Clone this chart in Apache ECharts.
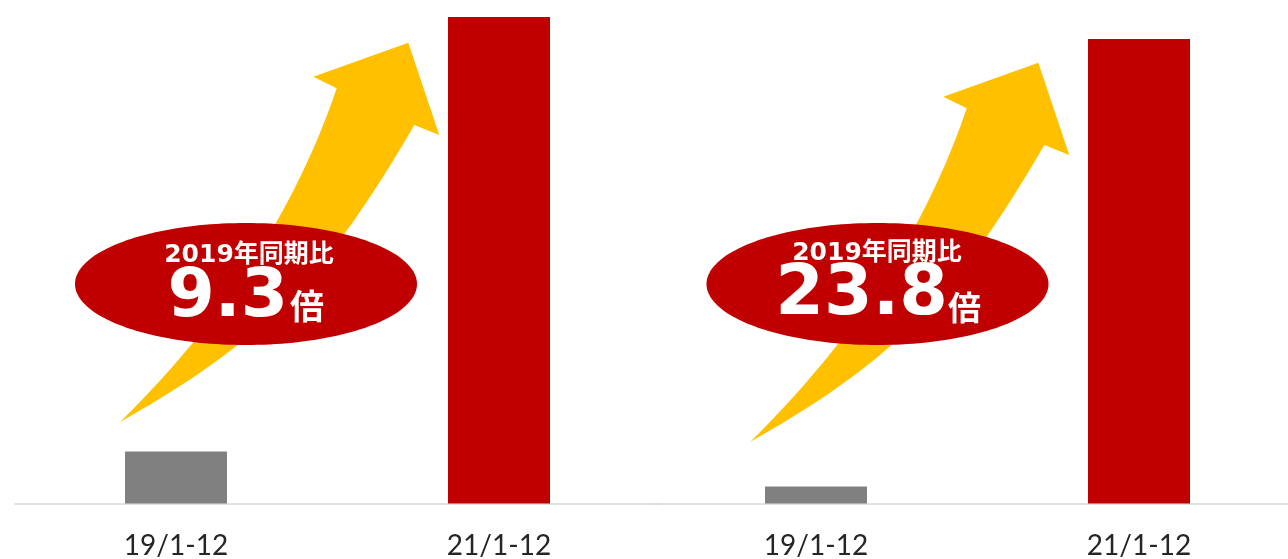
<!DOCTYPE html>
<html>
<head>
<meta charset="utf-8">
<script src="https://cdn.jsdelivr.net/npm/echarts@6/dist/echarts.min.js"></script>
<style>
html,body{margin:0;padding:0;background:#fff;}
#chart{width:1288px;height:559px;}
</style>
</head>
<body>
<div id="chart"></div>
<script>
// ---- data ----
const categories = ['19/1-12', '21/1-12'];
const leftValues = [5.2, 48.6];    // estimated bar heights (relative units)
const rightValues = [1.7, 46.4];   // estimated bar heights (relative units)
const barColors = ['#808080', '#C00000'];
const captionText = '2019年同期比';
const ratioTexts = ['9.3', '23.8'];
const ratioUnit = '倍';

// ---- decoration helpers ----
function quad(p0, c, p1, n) {
  const pts = [];
  for (let i = 0; i <= n; i++) {
    const t = i / n, u = 1 - t;
    pts.push([u*u*p0[0] + 2*u*t*c[0] + t*t*p1[0], u*u*p0[1] + 2*u*t*c[1] + t*t*p1[1]]);
  }
  return pts;
}
function cubic(p0, c1, c2, p1, n) {
  const pts = [];
  for (let i = 0; i <= n; i++) {
    const t = i / n, u = 1 - t;
    pts.push([
      u*u*u*p0[0] + 3*u*u*t*c1[0] + 3*u*t*t*c2[0] + t*t*t*p1[0],
      u*u*u*p0[1] + 3*u*u*t*c1[1] + 3*u*t*t*c2[1] + t*t*t*p1[1]
    ]);
  }
  return pts;
}
function arrowPoints(dx, dy) {
  const T = [120, 422], JL = [336.7, 88.3], LB = [313.3, 76.7], TIP = [408.3, 42.7],
        RB = [439.3, 135], JR = [414.3, 125];
  let pts = quad(T, [275, 270], JL, 40);
  pts.push(LB, TIP, RB);
  pts = pts.concat(cubic(JR, [328.9, 272], [268.1, 338.5], T, 40));
  return pts.map(p => [p[0] + dx, p[1] + dy]);
}
function ellipsePoints(cx, cy, rx, ry) {
  const pts = [];
  for (let i = 0; i < 180; i++) {
    const a = i / 180 * Math.PI * 2;
    pts.push([cx + rx * Math.cos(a), cy + ry * Math.sin(a)]);
  }
  return pts;
}
function txt(text, x, y, size, align, family) {
  return {
    type: 'text', z: 12,
    style: {
      text: text, x: x, y: y, fill: '#ffffff',
      font: 'bold ' + size + 'px ' + family,
      align: align, textAlign: align,
      verticalAlign: 'middle', textVerticalAlign: 'middle'
    }
  };
}
const FAM = '"DejaVu Sans", "Noto Sans CJK JP", sans-serif';
const CJK = '"Noto Sans CJK JP", sans-serif';

const chart = echarts.init(document.getElementById('chart'), null, {renderer: 'canvas'});

function xAx(gi) {
  return {
    type: 'category', gridIndex: gi, data: categories,
    axisLine: {show: true, lineStyle: {color: '#d9d9d9', width: 1.5}},
    axisTick: {show: false},
    axisLabel: {color: '#262626', fontSize: 28, fontFamily: 'Lato', margin: 28}
  };
}
function yAx(gi) {
  return {
    type: 'value', gridIndex: gi, min: 0, max: 48.6,
    show: false, splitLine: {show: false}
  };
}

const option = {
  backgroundColor: '#ffffff',
  animation: false,
  grid: [
    {left: 14.5, width: 646, top: 17, bottom: 55.5, outerBoundsMode: 'none', containLabel: false},
    {left: 654.5, width: 646, top: 17, bottom: 55.5, outerBoundsMode: 'none', containLabel: false}
  ],
  xAxis: [xAx(0), xAx(1)],
  yAxis: [yAx(0), yAx(1)],
  series: [
    {
      type: 'bar', xAxisIndex: 0, yAxisIndex: 0, barWidth: 102, z: 2,
      data: leftValues.map((v, i) => ({value: v, itemStyle: {color: barColors[i]}}))
    },
    {
      type: 'bar', xAxisIndex: 1, yAxisIndex: 1, barWidth: 102, z: 2,
      data: rightValues.map((v, i) => ({value: v, itemStyle: {color: barColors[i]}}))
    }
  ],
  graphic: [
    {type: 'polygon', z: 5, shape: {points: arrowPoints(0, 0)}, style: {fill: '#FFC000'}},
    {type: 'polygon', z: 5, shape: {points: arrowPoints(630, 20)}, style: {fill: '#FFC000'}},
    {type: 'polygon', z: 10, shape: {points: ellipsePoints(246, 284, 171, 61)}, style: {fill: '#C00000'}},
    {type: 'polygon', z: 10, shape: {points: ellipsePoints(877.5, 284, 171, 61)}, style: {fill: '#C00000'}},
    txt(captionText, 249, 255, 25, 'center', FAM),
    txt(captionText, 877, 253.5, 25, 'center', FAM),
    txt(ratioTexts[0], 288, 298, 68, 'right', FAM),
    txt(ratioUnit, 290, 306.5, 34, 'left', CJK),
    txt(ratioTexts[1], 948, 296, 70, 'right', FAM),
    txt(ratioUnit, 948, 307, 33, 'left', CJK)
  ]
};
chart.setOption(option);
</script>
</body>
</html>
